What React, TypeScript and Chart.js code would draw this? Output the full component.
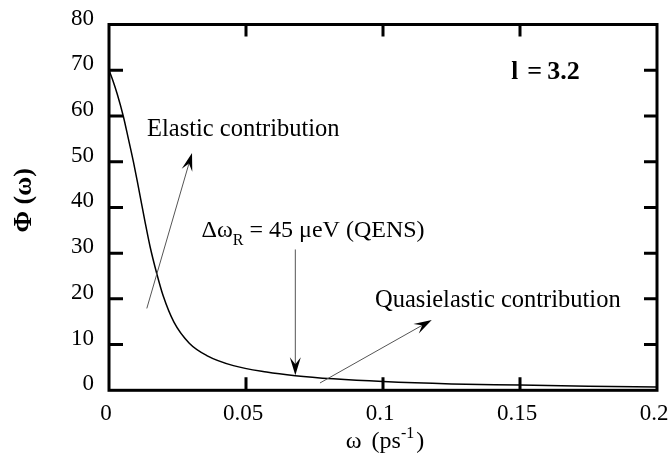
import { useEffect, useRef } from 'react';
import { Chart, registerables } from 'chart.js';

Chart.register(...registerables);

// ---- data ----
const omegaValues = [0, 0.0015, 0.003, 0.0052, 0.007, 0.0089, 0.0103, 0.0116, 0.0131, 0.015, 0.0174, 0.0198, 0.0237, 0.0293, 0.0357, 0.0454, 0.0575, 0.068, 0.0819, 0.1, 0.125, 0.15, 0.175, 0.2];
const phiValues = [70, 67.6, 64.8, 60, 55.2, 50, 45.8, 41.7, 37.0, 31.4, 25.6, 20.6, 14.9, 10.3, 7.6, 5.4, 4.0, 3.2, 2.5, 1.9, 1.4, 1.15, 0.87, 0.7];
const xTickLabels = ['0', '0.05', '0.1', '0.15', '0.2'];
const yTickLabels = ['0', '10', '20', '30', '40', '50', '60', '70', '80'];

// annotation anchors in data coordinates
const elasticArrow = { from: [0.0138, 17.9], to: [0.0303, 51.9] };
const qensArrow = { from: [0.068, 30.8], to: [0.068, 3.3] };
const quasiArrow = { from: [0.077, 1.6], to: [0.1178, 15.4] };
const elasticLabelAt = [0.01387, 55.6];
const qensLabelAt = [0.0338, 33.6];
const quasiLabelAt = [0.0971, 18.2];
const paramLabelAt = [0.1464, 68.1];

const SERIF = "'Liberation Serif', 'Times New Roman', serif";

function arrow(ctx: CanvasRenderingContext2D, x1: number, y1: number, x2: number, y2: number) {
  const ang = Math.atan2(y2 - y1, x2 - x1);
  const len = 18, half = 5.5, notch = 11;
  ctx.save();
  ctx.strokeStyle = '#555';
  ctx.lineWidth = 1;
  ctx.beginPath();
  ctx.moveTo(x1, y1);
  ctx.lineTo(x2 - Math.cos(ang) * notch, y2 - Math.sin(ang) * notch);
  ctx.stroke();
  ctx.translate(x2, y2);
  ctx.rotate(ang);
  ctx.fillStyle = '#000';
  ctx.beginPath();
  ctx.moveTo(0, 0);
  ctx.lineTo(-len, -half);
  ctx.lineTo(-notch, 0);
  ctx.lineTo(-len, half);
  ctx.closePath();
  ctx.fill();
  ctx.restore();
}

const decorPlugin = {
  id: 'decor',
  afterDraw(chart: any) {
    const { ctx, chartArea: a, scales } = chart;
    const xs = scales.x, ys = scales.y;
    const px = (v: number) => xs.getPixelForValue(v);
    const py = (v: number) => ys.getPixelForValue(v);
    ctx.save();

    // arrows
    for (const ar of [elasticArrow, qensArrow, quasiArrow]) {
      arrow(ctx, px(ar.from[0]), py(ar.from[1]), px(ar.to[0]), py(ar.to[1]));
    }

    // annotation texts
    ctx.fillStyle = '#000';
    ctx.textBaseline = 'alphabetic';
    ctx.textAlign = 'left';
    ctx.font = `24.5px ${SERIF}`;
    ctx.fillText('Elastic contribution', px(elasticLabelAt[0]), py(elasticLabelAt[1]));
    ctx.fillText('Quasielastic contribution', px(quasiLabelAt[0]), py(quasiLabelAt[1]));

    let tx = px(qensLabelAt[0]);
    const ty = py(qensLabelAt[1]);
    ctx.font = `24px ${SERIF}`;
    ctx.fillText('Δω', tx, ty);
    tx += ctx.measureText('Δω').width;
    ctx.font = `16px ${SERIF}`;
    ctx.fillText('R', tx, ty + 8);
    tx += ctx.measureText('R').width;
    ctx.font = `24px ${SERIF}`;
    ctx.fillText(' = 45 μeV (QENS)', tx, ty);

    // l = 3.2 (bold)
    const lx = px(paramLabelAt[0]);
    const ly = py(paramLabelAt[1]);
    ctx.font = `bold 25px ${SERIF}`;
    ctx.fillText('l', lx + 1, ly);
    ctx.font = `bold 26px ${SERIF}`;
    ctx.fillText('=', lx + 17, ly);
    ctx.fillText('3.2', lx + 37, ly);

    // frame
    ctx.strokeStyle = '#000';
    ctx.lineWidth = 3;
    ctx.strokeRect(a.left, a.top, a.right - a.left, a.bottom - a.top);

    // inward ticks on all four sides
    ctx.beginPath();
    for (const t of ys.ticks) {
      const y = py(t.value);
      if (y <= a.top + 1 || y >= a.bottom - 1) continue;
      ctx.moveTo(a.left, y); ctx.lineTo(a.left + 14, y);
      ctx.moveTo(a.right, y); ctx.lineTo(a.right - 13, y);
    }
    for (const t of xs.ticks) {
      const x = px(t.value);
      if (x <= a.left + 1 || x >= a.right - 1) continue;
      ctx.moveTo(x, a.bottom); ctx.lineTo(x, a.bottom - 13);
      ctx.moveTo(x, a.top); ctx.lineTo(x, a.top + 12);
    }
    ctx.stroke();

    // x axis title: ω (ps^-1)
    const cx = (a.left + a.right) / 2;
    const by = a.bottom + 58;
    ctx.font = `24px ${SERIF}`;
    const wOmega = ctx.measureText('ω').width;
    const wPs = ctx.measureText('(ps').width;
    const wClose = ctx.measureText(')').width;
    ctx.font = `16px ${SERIF}`;
    const wSup = ctx.measureText('-1').width;
    const gapA = 10, gapB = 2;
    const total = wOmega + gapA + wPs + wSup + gapB + wClose;
    let xx = cx - total / 2 + 2;
    ctx.font = `24px ${SERIF}`;
    ctx.fillText('ω', xx, by);
    xx += wOmega + gapA;
    ctx.fillText('(ps', xx, by);
    xx += wPs;
    ctx.font = `16px ${SERIF}`;
    ctx.fillText('-1', xx, by - 10);
    xx += wSup + gapB;
    ctx.font = `24px ${SERIF}`;
    ctx.fillText(')', xx, by);

    // y axis title: Φ (ω)
    ctx.save();
    ctx.translate(a.left - 85, (a.top + a.bottom) / 2 - 7);
    ctx.rotate(-Math.PI / 2);
    ctx.font = `bold 26px ${SERIF}`;
    ctx.textAlign = 'center';
    ctx.textBaseline = 'middle';
    ctx.fillText('Φ (ω)', 0, 0);
    ctx.restore();

    ctx.restore();
  },
};

export default function App() {
  const ref = useRef<HTMLCanvasElement>(null);
  useEffect(() => {
    if (!ref.current) return;
    const chart = new Chart(ref.current, {
      type: 'line',
      data: {
        datasets: [
          {
            data: omegaValues.map((x, i) => ({ x, y: phiValues[i] })),
            borderColor: '#000',
            borderWidth: 1.5,
            pointRadius: 0,
            fill: false,
            cubicInterpolationMode: 'monotone',
          },
        ],
      },
      options: {
        animation: false,
        responsive: false,
        layout: { padding: { top: 24.5, right: 12, left: 0, bottom: 0 } },
        plugins: { legend: { display: false }, tooltip: { enabled: false } },
        scales: {
          x: {
            type: 'linear',
            min: 0,
            max: 0.2,
            grid: { display: false, drawTicks: false },
            border: { display: false },
            ticks: {
              stepSize: 0.05,
              autoSkip: false,
              maxRotation: 0,
              color: '#000',
              font: { family: SERIF, size: 23 },
              padding: 10,
              labelOffset: -3,
              callback: (_v: any, i: number) => xTickLabels[i],
            },
            afterFit: (s: any) => {
              s.height = 67.7;
              s.paddingLeft = 0;
              s.paddingRight = 0;
            },
          },
          y: {
            type: 'linear',
            min: 0,
            max: 80,
            grid: { display: false, drawTicks: false },
            border: { display: false },
            ticks: {
              stepSize: 10,
              autoSkip: false,
              color: '#000',
              font: { family: SERIF, size: 23 },
              padding: 15,
              labelOffset: -6,
              callback: (_v: any, i: number) => yTickLabels[i],
            },
            afterFit: (s: any) => {
              s.width = 109;
              s.paddingTop = 0;
              s.paddingBottom = 0;
            },
          },
        },
      },
      plugins: [decorPlugin],
    } as any);
    return () => chart.destroy();
  }, []);
  return (
    <div style={{ position: 'fixed', left: 0, top: 0, width: 669, height: 458, background: '#fff' }}>
      <canvas ref={ref} width={669} height={458} />
    </div>
  );
}
